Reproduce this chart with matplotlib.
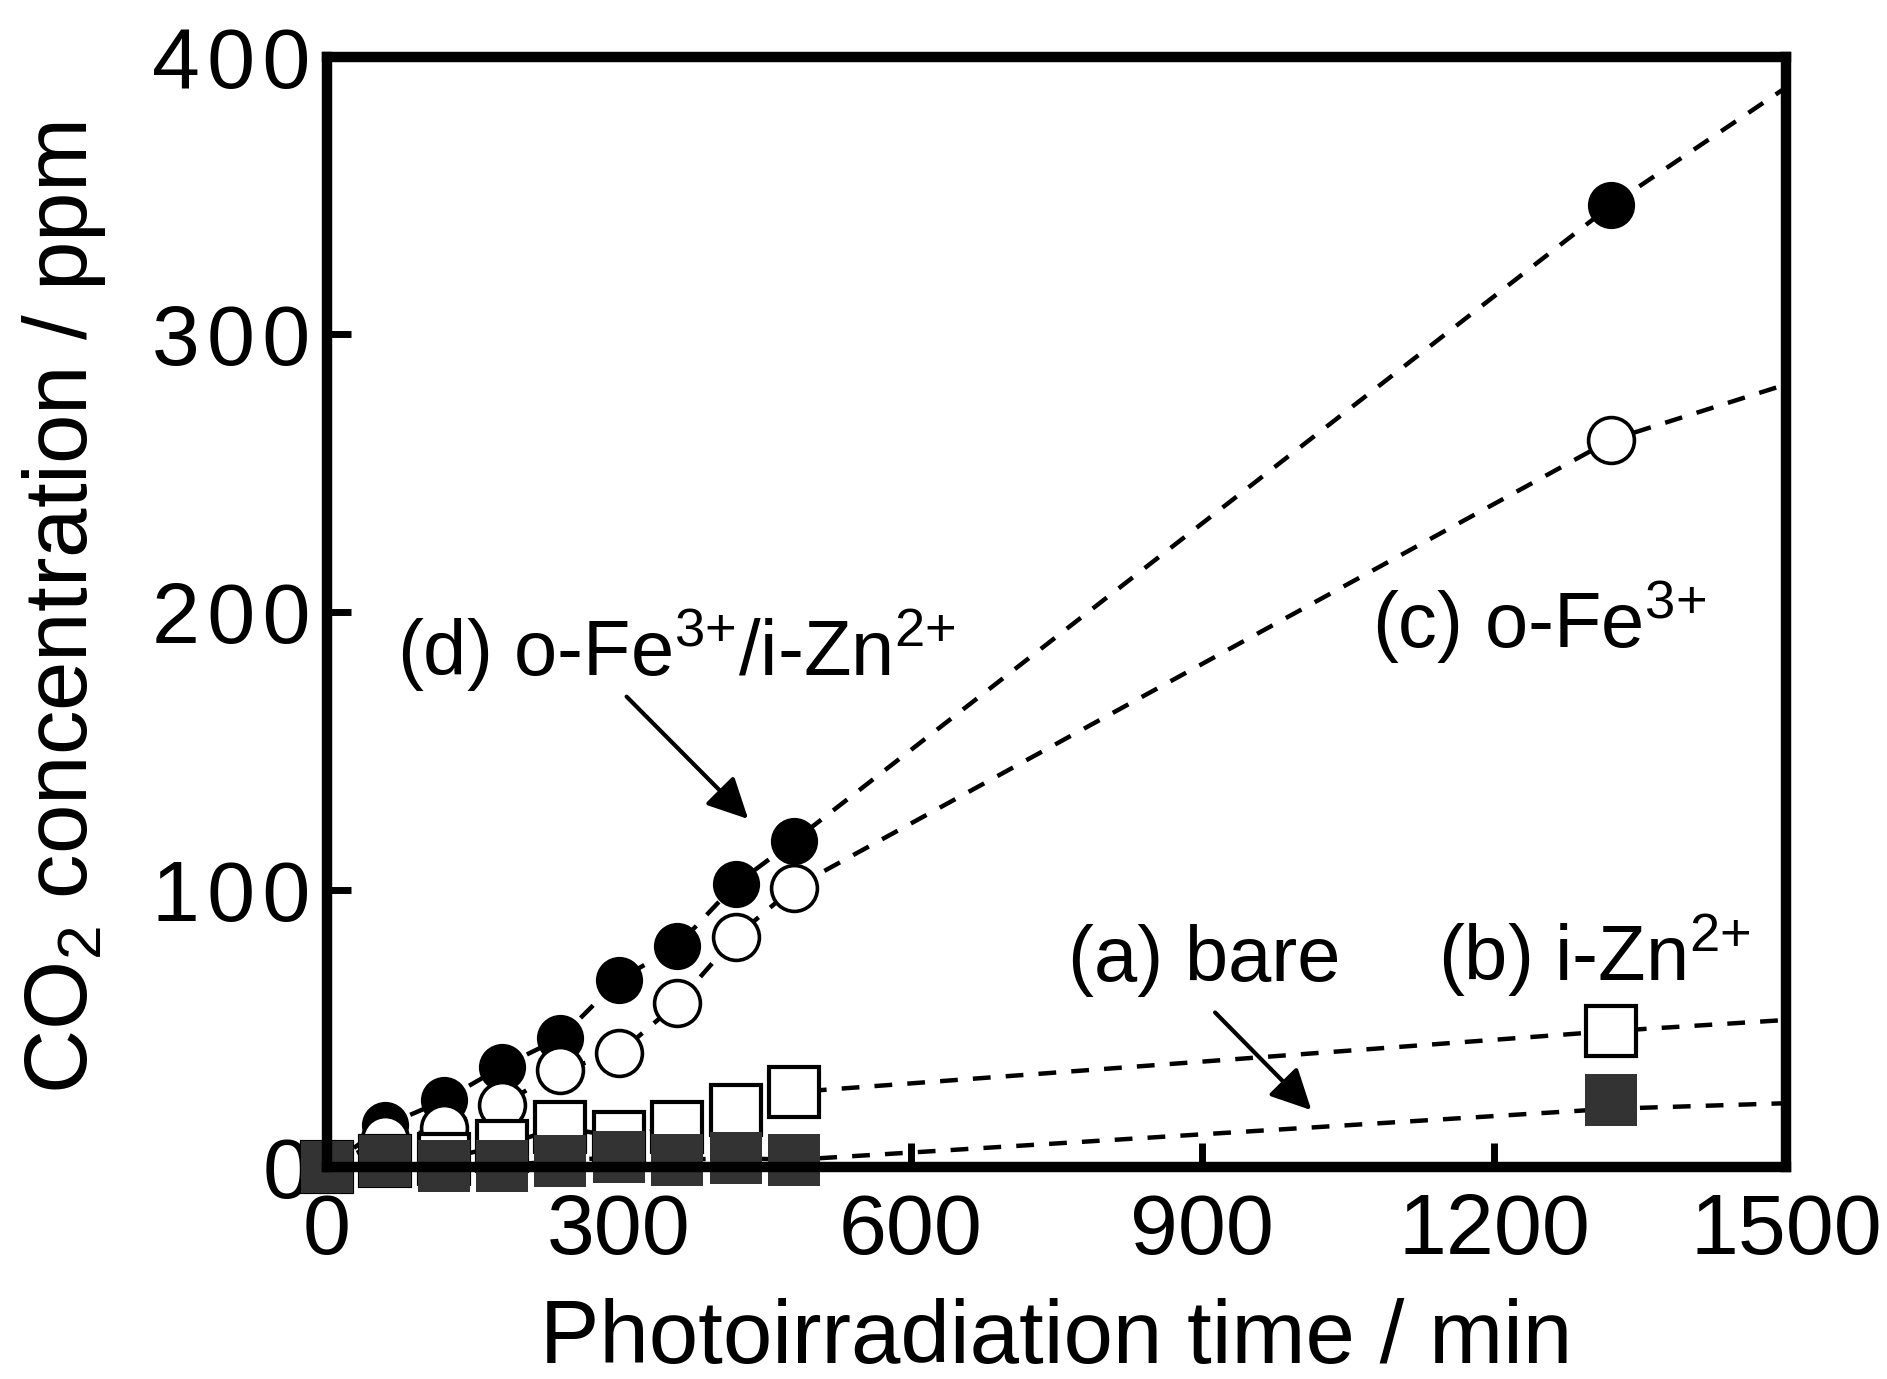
import matplotlib
matplotlib.use("Agg")
import matplotlib.pyplot as plt

plt.rcParams["font.family"] = ["Liberation Sans", "DejaVu Sans"]
plt.rcParams["mathtext.fontset"] = "custom"
plt.rcParams["mathtext.rm"] = "Liberation Sans"
plt.rcParams["mathtext.it"] = "Liberation Sans"

# photoirradiation time (min)
times = [0, 60, 120, 180, 240, 300, 360, 420, 480, 1320]
# CO2 concentration (ppm)
a_bare = [0, 2.3, 0.5, 0.5, 2.3, 3.6, 2.6, 3.2, 2.6, 24]
b_zn = [0, 2, 3, 7.7, 14.4, 10.8, 14.6, 20.6, 27, 49]
c_fe = [0, 10, 14, 22.4, 35, 41, 59, 83, 100.7, 262]
d_fezn = [0, 15, 24, 36.2, 46.5, 67.5, 79.6, 101.9, 117.5, 346.5]

# dashed guide lines, extended to the right edge
line_t = times + [1500]
a_line = a_bare[:-1] + [21, 23]
b_line = b_zn + [53]
c_line = c_fe + [282]
d_line = d_fezn + [389]

x_ticks = [0, 300, 600, 900, 1200, 1500]
y_ticks = [0, 100, 200, 300, 400]

LW_DASH = 3.2
DASHES = (4.0, 3.4)

fig = plt.figure(figsize=(18.87, 13.79), dpi=100)
ax = fig.add_axes([0.1733, 0.1537, 0.7732, 0.805])

for yl in (d_line, c_line, b_line, a_line):
    ax.plot(line_t, yl, color="black", lw=LW_DASH, dashes=DASHES, zorder=2)

ax.plot(times, d_fezn, "o", ms=34, mfc="black", mec="black", mew=0,
        clip_on=False, zorder=3)
ax.plot(times, c_fe, "o", ms=33, mfc="white", mec="black", mew=2.6,
        clip_on=False, zorder=4)
ax.plot(times, b_zn, "s", ms=36, mfc="white", mec="black", mew=3,
        clip_on=False, zorder=5)
ax.plot(times, a_bare, "s", ms=37, mfc="#333333", mec="#333333", mew=0,
        clip_on=False, zorder=6)

ax.set_xlim(0, 1500)
ax.set_ylim(0, 400)
ax.set_xticks(x_ticks)
ax.set_yticks(y_ticks)
# y labels in the original are set a little looser
ax.set_yticklabels(["\u200a".join(str(v)) for v in y_ticks])

for s in ax.spines.values():
    s.set_linewidth(7.5)
    s.set_zorder(7)
ax.tick_params(direction="in", length=17, width=5, labelsize=62,
               top=False, right=False)
ax.tick_params(axis="x", pad=18)
ax.tick_params(axis="y", pad=12)

ax.set_xlabel("Photoirradiation time / min", fontsize=64)
ax.set_ylabel("CO$_2$ concentration / ppm", fontsize=64)
ax.xaxis.set_label_coords(0.5, -0.118)
ax.yaxis.set_label_coords(-0.150, 0.504)

txt_kw = dict(fontsize=56, ha="left", va="baseline")
ax.text(72, 177, "(d) o-Fe$^{3{+}}$/i-Zn$^{2{+}}$", **txt_kw)
ax.text(1074, 187, "(c) o-Fe$^{3{+}}$", **txt_kw)
ax.text(762, 67, "(a) bare", **txt_kw)
ax.text(1142, 67, "(b) i-Zn$^{2{+}}$", **txt_kw)

arrow_kw = dict(arrowstyle="-|>", color="black", lw=3, mutation_scale=62,
                shrinkA=0, shrinkB=0)
ax.annotate("", xy=(433, 125.4), xytext=(308, 169.5), arrowprops=arrow_kw)
ax.annotate("", xy=(1012, 20.5), xytext=(913, 55.7), arrowprops=arrow_kw)

fig.savefig("out.png", dpi=100)
